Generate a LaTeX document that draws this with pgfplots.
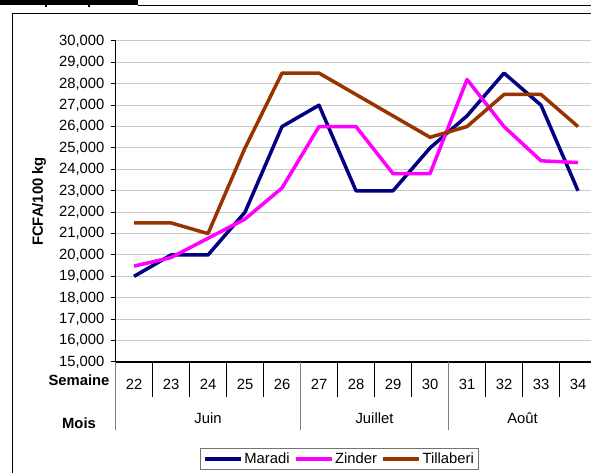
\documentclass[border=0pt]{standalone}
\usepackage{fontspec}
\setmainfont{Liberation Sans}
\usepackage{pgfplots}
\usepackage{pgfplotstable}
\pgfplotsset{compat=1.18}
\definecolor{maradi}{RGB}{0,0,128}
\definecolor{zinder}{RGB}{255,0,255}
\definecolor{tilla}{RGB}{153,51,0}
\definecolor{gridc}{RGB}{200,200,200}
\definecolor{sepc}{RGB}{128,128,128}
\pgfplotstableread{
wk maradi zinder tilla
22 19000 19480 21500
23 20000 19880 21500
24 20000 20780 21000
25 22000 21680 25000
26 26000 23130 28500
27 27000 26000 28500
28 23000 26000 27500
29 23000 23800 26500
30 25000 23800 25500
31 26500 28200 26000
32 28500 26000 27500
33 27000 24400 27500
34 23000 24320 26000
}\pricedata
\begin{document}
\fontsize{14.8bp}{17bp}\selectfont
\begin{tikzpicture}[x=1bp,y=1bp]
% top remnants and outer frame (image y -> 473 - y)
\fill[black] (0,468) rectangle (138,473);
\fill[black] (44.5,466.3) rectangle (46.5,468);
\fill[black] (87.5,466.3) rectangle (89.5,468);
\draw[black, line width=1.5bp] (138,467.3) -- (595,467.3);
\draw[black, line width=1bp] (12.5,-5) -- (12.5,459) -- (600,459);
\begin{axis}[
  at={(115.5bp,111bp)}, anchor=south west,
  scale only axis, width=481bp, height=321bp,
  xmin=21.5, xmax=34.5, ymin=15000, ymax=30000,
  clip=false,
  axis lines*=left,
  axis line style={-, black, line width=1.2bp},
  tick align=outside,
  ytick={15000,16000,...,30000},
  xtick={22,...,34},
  major tick length=5bp,
  ytick style={black, line width=1bp},
  xtick style={draw=none},
  ymajorgrids, grid style={gridc, line width=1bp},
  scaled y ticks=false,
  /pgf/number format/.cd, fixed, 1000 sep={,}, assume math mode=true,
  /pgfplots/.cd,
  tick label style={font=\fontsize{14.8bp}{17bp}\selectfont},
  xticklabel style={anchor=north, yshift=-7bp},
  yticklabel style={anchor=east, xshift=-1bp},
  ylabel={FCFA/100 kg},
  ylabel style={at={(axis description cs:-0.159,0.5)}, anchor=center, font=\fontsize{14.8bp}{17bp}\selectfont\bfseries},
  legend columns=3,
  legend style={at={(axis description cs:0.1757,-0.268)}, anchor=north west,
    draw=black!55, line width=0.8bp, fill=white, inner xsep=3bp, inner ysep=2bp,
    font=\fontsize{14.8bp}{17bp}\selectfont,
    nodes={inner xsep=1.5bp, inner ysep=2bp},
    /tikz/every even column/.append style={column sep=3bp}},
  legend image code/.code={\draw[#1] (0bp,0bp) -- (36bp,0bp);},
  every axis plot/.append style={line width=3.5bp, line join=round},
]
\addplot[maradi] table[x=wk, y=maradi] {\pricedata};
\addlegendentry{Maradi}
\addplot[zinder] table[x=wk, y=zinder] {\pricedata};
\addlegendentry{Zinder}
\addplot[tilla] table[x=wk, y=tilla] {\pricedata};
\addlegendentry{Tillaberi}
% category separators
\pgfplotsinvokeforeach{22.5,23.5,24.5,25.5,27.5,28.5,29.5,31.5,32.5,33.5}{
  \draw[black, line width=1bp] (axis cs:#1,15000) -- ++(0bp,-35bp);
}
\pgfplotsinvokeforeach{21.5,26.5,30.5,34.5}{
  \draw[sepc, line width=1.2bp] (axis cs:#1,15000) -- ++(0bp,-68bp);
}
\node at (axis cs:24,15000) [yshift=-56bp] {Juin};
\node at (axis cs:28.5,15000) [yshift=-56bp] {Juillet};
\node at (axis cs:32.5,15000) [yshift=-56bp] {Août};
\end{axis}
\node[font=\fontsize{14.8bp}{17bp}\selectfont\bfseries] at (79,92.3) {Semaine};
\node[font=\fontsize{14.8bp}{17bp}\selectfont\bfseries] at (79,50) {Mois};
\pgfresetboundingbox
\useasboundingbox (0,0) rectangle (591,473);
\end{tikzpicture}
\end{document}
